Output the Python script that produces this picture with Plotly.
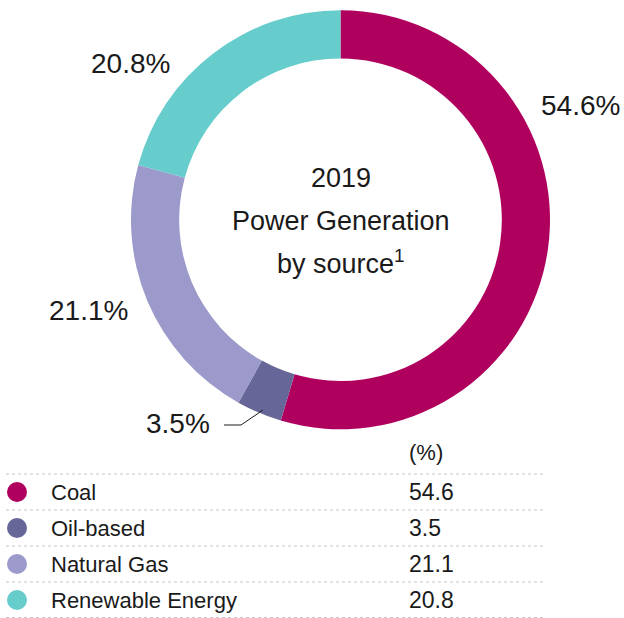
import plotly.graph_objects as go

# ---- data ----
categories = ["Coal", "Oil-based", "Natural Gas", "Renewable Energy"]
shares = [54.6, 3.5, 21.1, 20.8]
colors = ["#B0005E", "#676698", "#9B9ACA", "#66CCCC"]
center_lines = ["2019", "Power Generation", "by source<sup>1</sup>"]
unit_label = "(%)"

W, H = 624, 618
FONT = "Liberation Sans, Arial, sans-serif"
TXT = "#1a1a1a"

fig = go.Figure()

# donut
fig.add_trace(go.Pie(
    labels=categories, values=shares, sort=False, direction="clockwise",
    rotation=0, hole=0.77,
    marker=dict(colors=colors, line=dict(width=0)),
    textinfo="none", hoverinfo="label+value", showlegend=False,
    domain=dict(x=[131 / W, 550 / W], y=[1 - 430 / H, 1 - 9.5 / H]),
))

# table / legend layout constants
table_top = 474
row_h = 36
n = len(categories)
row_centers = [table_top + (i + 0.5) * row_h for i in range(n)]

fig.add_trace(go.Scatter(
    x=[17] * n, y=row_centers, mode="markers",
    marker=dict(size=20, color=colors, line=dict(width=0)),
    hoverinfo="skip", showlegend=False,
))

annotations = []
shapes = []
# dashed separators
for i in range(n + 1):
    yy = table_top + i * row_h - (0.5 if i == n else 0)
    shapes.append(dict(type="line", xref="x", yref="y", x0=6, x1=545, y0=yy, y1=yy,
                       line=dict(color="#CCC6BC", width=1, dash="3px,3px")))

for i, (cat, val) in enumerate(zip(categories, shares)):
    annotations.append(dict(x=49, y=row_centers[i], xref="x", yref="y", text=cat,
                            showarrow=False, xanchor="left", yanchor="middle",
                            font=dict(family=FONT, size=22, color=TXT)))
    annotations.append(dict(x=407, y=row_centers[i], xref="x", yref="y", text=f"{val:.1f}",
                            showarrow=False, xanchor="left", yanchor="middle",
                            font=dict(family=FONT, size=23, color=TXT)))
annotations.append(dict(x=407, y=452, xref="x", yref="y", text=unit_label,
                        showarrow=False, xanchor="left", yanchor="middle",
                        font=dict(family=FONT, size=22, color=TXT)))

# center text
for txt, yy in zip(center_lines, [178, 221, 262]):
    annotations.append(dict(x=340.5, y=yy, xref="x", yref="y", text=txt,
                            showarrow=False, xanchor="center", yanchor="middle",
                            font=dict(family=FONT, size=27, color=TXT)))

# outside percentage labels
label_pos = [(580, 105), (178, 423), (88, 310), (130, 63)]
for (lx, ly), val in zip(label_pos, shares):
    annotations.append(dict(x=lx, y=ly, xref="x", yref="y", text=f"{val:.1f}%",
                            showarrow=False, xanchor="center", yanchor="middle",
                            font=dict(family=FONT, size=28, color=TXT)))

# leader line for small slice
shapes.append(dict(type="path", xref="x", yref="y", path="M 224 425 L 241 425 L 263 410",
                   line=dict(color="#1a1a1a", width=1)))

fig.update_layout(
    width=W, height=H, margin=dict(l=0, r=0, t=0, b=0),
    paper_bgcolor="white", plot_bgcolor="rgba(0,0,0,0)",
    xaxis=dict(range=[0, W], visible=False, fixedrange=True),
    yaxis=dict(range=[H, 0], visible=False, fixedrange=True),
    annotations=annotations, shapes=shapes, showlegend=False,
)

fig.write_html("out.html", config={"displayModeBar": False},
               post_script="document.body.style.margin='0';document.body.style.overflow='hidden';")
